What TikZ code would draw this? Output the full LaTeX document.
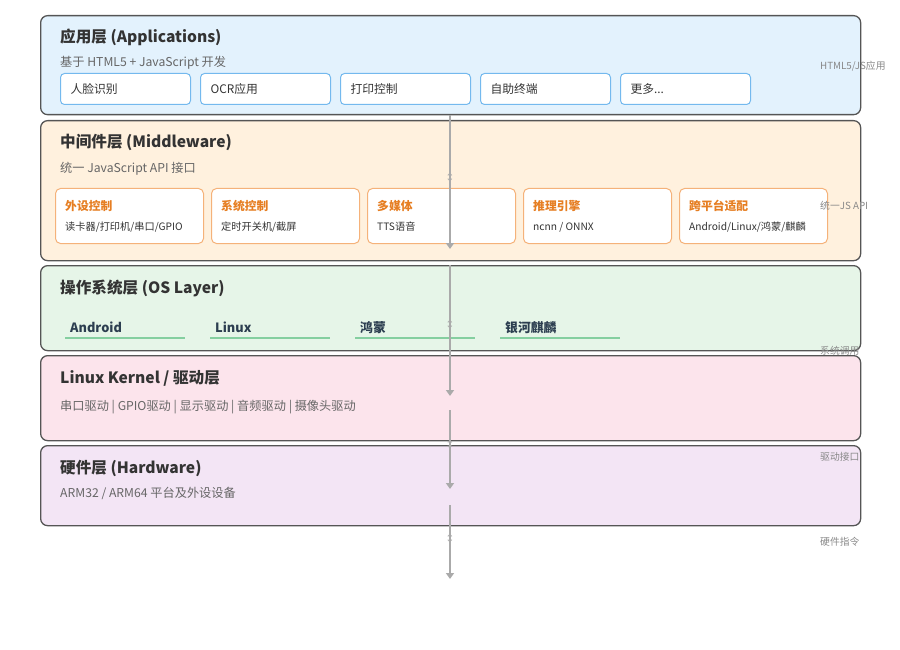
\documentclass[tikz,border=0pt]{standalone}
\usepackage{fontspec}
\setmainfont{Noto Sans CJK SC}
\newfontfamily\symfont{DejaVu Sans}
\usetikzlibrary{arrows.meta}
\definecolor{layerborder}{HTML}{555555}
\definecolor{appfill}{HTML}{E3F2FD}
\definecolor{appborder}{HTML}{74B9EE}
\definecolor{midfill}{HTML}{FFF1DE}
\definecolor{midborder}{HTML}{F5B27A}
\definecolor{midtitle}{HTML}{E67E22}
\definecolor{osfill}{HTML}{E6F5E8}
\definecolor{osline}{HTML}{85CFA0}
\definecolor{ostext}{HTML}{2C3E50}
\definecolor{kernfill}{HTML}{FCE4EC}
\definecolor{hwfill}{HTML}{F3E5F5}
\definecolor{titletext}{HTML}{333333}
\definecolor{subtext}{HTML}{666666}
\definecolor{arrowgray}{HTML}{AAAAAA}
\definecolor{labelgray}{HTML}{888888}
\tikzset{
  layerbox/.style={draw=layerborder, line width=1.3pt, rounded corners=7pt, anchor=north west, minimum width=820pt, inner sep=0pt},
  layertitle/.style={anchor=base west, inner sep=0pt, font=\fontsize{15.6}{18}\selectfont\bfseries, text=titletext},
  layersub/.style={anchor=base west, inner sep=0pt, font=\fontsize{12.2}{14}\selectfont, text=subtext},
  appitem/.style={draw=appborder, line width=1pt, fill=white, rounded corners=4pt, anchor=north west, minimum width=130pt, minimum height=31pt, text width=110pt, inner xsep=10pt, align=left, font=\fontsize{11.8}{14}\selectfont, text=titletext},
  miditem/.style={draw=midborder, line width=1pt, fill=white, rounded corners=5pt, anchor=north west, minimum width=148pt, minimum height=55pt, inner sep=0pt},
  midtitle/.style={anchor=base west, inner sep=0pt, font=\fontsize{11.8}{14}\selectfont\bfseries, text=midtitle},
  midsub/.style={anchor=base west, inner sep=0pt, font=\fontsize{10.2}{12}\selectfont, text=titletext},
  ositem/.style={anchor=base west, inner sep=0pt, font=\fontsize{12.8}{15}\selectfont\bfseries, text=ostext},
  osrule/.style={draw=osline, line width=1.5pt},
  flow/.style={draw=arrowgray, line width=1.5pt, -{Triangle[length=6pt,width=8pt]}},
  swap/.style={inner sep=0pt, font=\symfont\fontsize{11}{12}\selectfont, text=arrowgray},
  sidelabel/.style={anchor=base west, inner sep=0pt, font=\fontsize{9.8}{11}\selectfont, text=labelgray}
}
\begin{document}
\begin{tikzpicture}[x=1pt,y=-1pt]
\useasboundingbox (0,0) rectangle (900,650);
% layers
\node[layerbox, fill=appfill, minimum height=99pt] (L1) at (40,15) {};
\node[layerbox, fill=midfill, minimum height=140pt] (L2) at (40,120) {};
\node[layerbox, fill=osfill, minimum height=85pt] (L3) at (40,265) {};
\node[layerbox, fill=kernfill, minimum height=85pt] (L4) at (40,355) {};
\node[layerbox, fill=hwfill, minimum height=80pt] (L5) at (40,445) {};
% layer 1
\node[layertitle] (T1) at (60,43) {应用层 (Applications)};
\node[layersub] (S1) at (60,66.5) {基于 HTML5 + JavaScript 开发};
\node[appitem] (A1) at (60,73) {人脸识别};
\node[appitem] (A2) at (200,73) {OCR应用};
\node[appitem] (A3) at (340,73) {打印控制};
\node[appitem] (A4) at (480,73) {自助终端};
\node[appitem] (A5) at (620,73) {更多...};
% layer 2
\node[layertitle] (T2) at (60,148) {中间件层 (Middleware)};
\node[layersub] (S2) at (60,172.5) {统一 JavaScript API 接口};
\node[miditem] (M1) at (55,188) {};
\node[miditem] (M2) at (211,188) {};
\node[miditem] (M3) at (367,188) {};
\node[miditem] (M4) at (523,188) {};
\node[miditem] (M5) at (679,188) {};
\node[midtitle] (M1t) at (65,210) {外设控制};
\node[midsub] (M1s) at (65,230) {读卡器/打印机/串口/GPIO};
\node[midtitle] (M2t) at (221,210) {系统控制};
\node[midsub] (M2s) at (221,230) {定时开关机/截屏};
\node[midtitle] (M3t) at (377,210) {多媒体};
\node[midsub] (M3s) at (377,230) {TTS语音};
\node[midtitle] (M4t) at (533,210) {推理引擎};
\node[midsub] (M4s) at (533,230) {ncnn / ONNX};
\node[midtitle] (M5t) at (689,210) {跨平台适配};
\node[midsub] (M5s) at (689,230) {Android/Linux/鸿蒙/麒麟};
% layer 3
\node[layertitle] (T3) at (60,293) {操作系统层 (OS Layer)};
\node[ositem] (O1) at (70,332) {Android};
\node[ositem] (O2) at (215,332) {Linux};
\node[ositem] (O3) at (360,332) {鸿蒙};
\node[ositem] (O4) at (505,332) {银河麒麟};
\draw[osrule] (65,338) -- (185,338);
\draw[osrule] (210,338) -- (330,338);
\draw[osrule] (355,338) -- (475,338);
\draw[osrule] (500,338) -- (620,338);
% layer 4
\node[layertitle] (T4) at (60,383) {Linux Kernel / 驱动层};
\node[layersub] (S4) at (60,410) {串口驱动 | GPIO驱动 | 显示驱动 | 音频驱动 | 摄像头驱动};
% layer 5
\node[layertitle] (T5) at (60,473) {硬件层 (Hardware)};
\node[layersub] (S5) at (60,497) {ARM32 / ARM64 平台及外设设备};
% flow arrows
\coordinate (F1a) at (450,115);
\coordinate (F1b) at (450,249);
\coordinate (F2a) at (450,265);
\coordinate (F2b) at (450,396);
\coordinate (F3a) at (450,410);
\coordinate (F3b) at (450,489);
\coordinate (F4a) at (450,505);
\coordinate (F4b) at (450,579);
\draw[flow] (F1a) -- (F1b);
\draw[flow] (F2a) -- (F2b);
\draw[flow] (F3a) -- (F3b);
\draw[flow] (F4a) -- (F4b);
\node[swap] (W1) at (450,178) {↕};
\node[swap] (W2) at (450,325) {↕};
\node[swap] (W3) at (450,445) {↕};
\node[swap] (W4) at (450,539) {↕};
% side labels
\node[sidelabel] (R1) at (820,70) {HTML5/JS应用};
\node[sidelabel] (R2) at (820,209) {统一JS API};
\node[sidelabel] (R3) at (820,354) {系统调用};
\node[sidelabel] (R4) at (820,460) {驱动接口};
\node[sidelabel] (R5) at (820,545) {硬件指令};
\end{tikzpicture}
\end{document}
